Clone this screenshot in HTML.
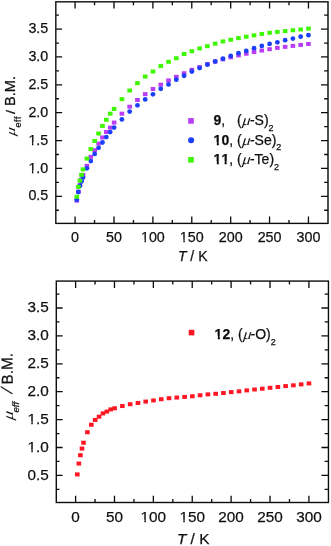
<!DOCTYPE html>
<html><head><meta charset="utf-8"><title>plot</title>
<style>
html,body{margin:0;padding:0;background:#fff;}
svg{display:block}
text{font-family:"Liberation Sans", sans-serif;font-size:14px;fill:#111;stroke:#111;stroke-width:0.25px;}
</style></head><body>
<svg width="331" height="546" viewBox="0 0 331 546">
<defs><filter id="soft" x="0" y="0" width="100%" height="100%" filterUnits="userSpaceOnUse"><feGaussianBlur stdDeviation="0.4"/></filter><filter id="soft2" x="0" y="0" width="100%" height="100%" filterUnits="userSpaceOnUse"><feGaussianBlur stdDeviation="0.25"/></filter></defs>
<rect width="331" height="546" fill="#fff"/>
<g filter="url(#soft2)">
<rect x="55.8" y="1.8" width="272.20" height="221.60" fill="none" stroke="#0a0a0a" stroke-width="1.38"/>
<path d="M75.10 223.4v-6.8M75.10 1.8v6.8M94.55 223.4v-3.4M94.55 1.8v3.4M113.99 223.4v-6.8M113.99 1.8v6.8M133.44 223.4v-3.4M133.44 1.8v3.4M152.88 223.4v-6.8M152.88 1.8v6.8M172.33 223.4v-3.4M172.33 1.8v3.4M191.77 223.4v-6.8M191.77 1.8v6.8M211.22 223.4v-3.4M211.22 1.8v3.4M230.67 223.4v-6.8M230.67 1.8v6.8M250.11 223.4v-3.4M250.11 1.8v3.4M269.56 223.4v-6.8M269.56 1.8v6.8M289.00 223.4v-3.4M289.00 1.8v3.4M308.45 223.4v-6.8M308.45 1.8v6.8M55.8 210.23h3.1M328.0 210.23h-3.8M55.8 196.30h6.3M328.0 196.30h-7.0M55.8 182.37h3.1M328.0 182.37h-3.8M55.8 168.43h6.3M328.0 168.43h-7.0M55.8 154.50h3.1M328.0 154.50h-3.8M55.8 140.57h6.3M328.0 140.57h-7.0M55.8 126.63h3.1M328.0 126.63h-3.8M55.8 112.70h6.3M328.0 112.70h-7.0M55.8 98.77h3.1M328.0 98.77h-3.8M55.8 84.83h6.3M328.0 84.83h-7.0M55.8 70.90h3.1M328.0 70.90h-3.8M55.8 56.97h6.3M328.0 56.97h-7.0M55.8 43.03h3.1M328.0 43.03h-3.8M55.8 29.10h6.3M328.0 29.10h-7.0M55.8 15.17h3.1M328.0 15.17h-3.8" stroke="#0a0a0a" stroke-width="1.3" fill="none"/>
<rect x="56.3" y="281.1" width="272.15" height="221.40" fill="none" stroke="#0a0a0a" stroke-width="1.38"/>
<path d="M75.60 502.5v-6.8M75.60 281.1v6.8M95.04 502.5v-3.4M95.04 281.1v3.4M114.48 502.5v-6.8M114.48 281.1v6.8M133.92 502.5v-3.4M133.92 281.1v3.4M153.37 502.5v-6.8M153.37 281.1v6.8M172.81 502.5v-3.4M172.81 281.1v3.4M192.25 502.5v-6.8M192.25 281.1v6.8M211.69 502.5v-3.4M211.69 281.1v3.4M231.13 502.5v-6.8M231.13 281.1v6.8M250.57 502.5v-3.4M250.57 281.1v3.4M270.02 502.5v-6.8M270.02 281.1v6.8M289.46 502.5v-3.4M289.46 281.1v3.4M308.90 502.5v-6.8M308.90 281.1v6.8M56.3 489.35h3.1M328.45 489.35h-3.8M56.3 475.40h6.3M328.45 475.40h-7.0M56.3 461.45h3.1M328.45 461.45h-3.8M56.3 447.50h6.3M328.45 447.50h-7.0M56.3 433.55h3.1M328.45 433.55h-3.8M56.3 419.60h6.3M328.45 419.60h-7.0M56.3 405.65h3.1M328.45 405.65h-3.8M56.3 391.70h6.3M328.45 391.70h-7.0M56.3 377.75h3.1M328.45 377.75h-3.8M56.3 363.80h6.3M328.45 363.80h-7.0M56.3 349.85h3.1M328.45 349.85h-3.8M56.3 335.90h6.3M328.45 335.90h-7.0M56.3 321.95h3.1M328.45 321.95h-3.8M56.3 308.00h6.3M328.45 308.00h-7.0M56.3 294.05h3.1M328.45 294.05h-3.8" stroke="#0a0a0a" stroke-width="1.3" fill="none"/>
</g>
<g filter="url(#soft)">
<text x="75.10" y="242.20" text-anchor="middle" style="font-size:14.3px">0</text>
<text x="113.99" y="242.20" text-anchor="middle" style="font-size:14.3px">50</text>
<text x="152.88" y="242.20" text-anchor="middle" style="font-size:14.3px">100</text>
<rect x="141.24" y="239.63" width="3.23" height="4.07" fill="#fff"/><rect x="145.89" y="239.63" width="3.36" height="4.07" fill="#fff"/>
<text x="191.77" y="242.20" text-anchor="middle" style="font-size:14.3px">150</text>
<rect x="180.13" y="239.63" width="3.23" height="4.07" fill="#fff"/><rect x="184.78" y="239.63" width="3.36" height="4.07" fill="#fff"/>
<text x="230.67" y="242.20" text-anchor="middle" style="font-size:14.3px">200</text>
<text x="269.56" y="242.20" text-anchor="middle" style="font-size:14.3px">250</text>
<text x="308.45" y="242.20" text-anchor="middle" style="font-size:14.3px">300</text>
<text x="48.30" y="200.25" text-anchor="end" style="font-size:14.3px">0.5</text>
<text x="48.30" y="172.88" text-anchor="end" style="font-size:14.3px">1.0</text>
<rect x="28.71" y="170.31" width="3.23" height="4.07" fill="#fff"/><rect x="33.36" y="170.31" width="3.36" height="4.07" fill="#fff"/>
<text x="48.30" y="144.52" text-anchor="end" style="font-size:14.3px">1.5</text>
<rect x="28.71" y="141.94" width="3.23" height="4.07" fill="#fff"/><rect x="33.36" y="141.94" width="3.36" height="4.07" fill="#fff"/>
<text x="48.30" y="116.65" text-anchor="end" style="font-size:14.3px">2.0</text>
<text x="48.30" y="88.78" text-anchor="end" style="font-size:14.3px">2.5</text>
<text x="48.30" y="60.92" text-anchor="end" style="font-size:14.3px">3.0</text>
<text x="48.30" y="33.05" text-anchor="end" style="font-size:14.3px">3.5</text>
<text x="192.70" y="261.10" text-anchor="middle" style="font-size:14px"><tspan font-style="italic">T</tspan> / K</text>
<text transform="translate(15.2,135.9) rotate(-90) scale(1.25,1) skewX(-8)" style="font-family:'Liberation Serif',serif;font-style:italic;stroke:none;font-size:13px">μ</text><text transform="translate(21.0,127.5) rotate(-90) " style="font-size:9px;letter-spacing:0.55px">eff</text><text transform="translate(15.2,114.0) rotate(-90) scale(1.12,1)" style="font-size:13px">/</text><text transform="translate(15.2,105.9) rotate(-90) " style="font-size:14.5px">B.M.</text>
<g fill="#b93cf5"><rect x="74.50" y="198.66" width="4.6" height="4.0"/><rect x="76.06" y="189.74" width="4.6" height="4.0"/><rect x="77.61" y="183.05" width="4.6" height="4.0"/><rect x="79.17" y="177.47" width="4.6" height="4.0"/><rect x="80.72" y="173.01" width="4.6" height="4.0"/><rect x="84.61" y="163.81" width="4.6" height="4.0"/><rect x="88.50" y="154.88" width="4.6" height="4.0"/><rect x="92.38" y="148.19" width="4.6" height="4.0"/><rect x="96.27" y="141.61" width="4.6" height="4.0"/><rect x="100.16" y="135.48" width="4.6" height="4.0"/><rect x="104.04" y="130.01" width="4.6" height="4.0"/><rect x="107.93" y="125.61" width="4.6" height="4.0"/><rect x="111.82" y="120.59" width="4.6" height="4.0"/><rect x="119.59" y="111.67" width="4.6" height="4.0"/><rect x="127.36" y="104.69" width="4.6" height="4.0"/><rect x="135.14" y="98.00" width="4.6" height="4.0"/><rect x="142.91" y="92.15" width="4.6" height="4.0"/><rect x="150.68" y="87.02" width="4.6" height="4.0"/><rect x="158.46" y="82.67" width="4.6" height="4.0"/><rect x="166.23" y="78.43" width="4.6" height="4.0"/><rect x="174.00" y="74.80" width="4.6" height="4.0"/><rect x="181.78" y="71.23" width="4.6" height="4.0"/><rect x="189.55" y="67.83" width="4.6" height="4.0"/><rect x="197.32" y="65.10" width="4.6" height="4.0"/><rect x="205.10" y="62.03" width="4.6" height="4.0"/><rect x="212.87" y="59.52" width="4.6" height="4.0"/><rect x="220.64" y="57.29" width="4.6" height="4.0"/><rect x="228.42" y="55.34" width="4.6" height="4.0"/><rect x="236.19" y="53.39" width="4.6" height="4.0"/><rect x="243.96" y="51.72" width="4.6" height="4.0"/><rect x="251.74" y="50.04" width="4.6" height="4.0"/><rect x="259.51" y="48.54" width="4.6" height="4.0"/><rect x="267.28" y="47.20" width="4.6" height="4.0"/><rect x="275.06" y="45.86" width="4.6" height="4.0"/><rect x="282.83" y="44.86" width="4.6" height="4.0"/><rect x="290.60" y="43.91" width="4.6" height="4.0"/><rect x="298.38" y="42.91" width="4.6" height="4.0"/><rect x="306.15" y="41.96" width="4.6" height="4.0"/></g>
<g fill="#1a40fa"><circle cx="76.80" cy="199.71" r="2.4"/><circle cx="78.36" cy="192.02" r="2.4"/><circle cx="79.91" cy="185.83" r="2.4"/><circle cx="81.47" cy="181.42" r="2.4"/><circle cx="83.02" cy="177.52" r="2.4"/><circle cx="86.91" cy="168.32" r="2.4"/><circle cx="90.80" cy="161.07" r="2.4"/><circle cx="94.68" cy="153.93" r="2.4"/><circle cx="98.57" cy="147.79" r="2.4"/><circle cx="102.46" cy="142.50" r="2.4"/><circle cx="106.34" cy="137.03" r="2.4"/><circle cx="110.23" cy="132.07" r="2.4"/><circle cx="114.12" cy="127.61" r="2.4"/><circle cx="121.89" cy="119.41" r="2.4"/><circle cx="129.66" cy="111.55" r="2.4"/><circle cx="137.44" cy="105.30" r="2.4"/><circle cx="145.21" cy="99.39" r="2.4"/><circle cx="152.98" cy="94.31" r="2.4"/><circle cx="160.76" cy="88.79" r="2.4"/><circle cx="168.53" cy="84.39" r="2.4"/><circle cx="176.30" cy="79.70" r="2.4"/><circle cx="184.08" cy="75.74" r="2.4"/><circle cx="191.85" cy="71.51" r="2.4"/><circle cx="199.62" cy="68.10" r="2.4"/><circle cx="207.40" cy="64.70" r="2.4"/><circle cx="215.17" cy="61.52" r="2.4"/><circle cx="222.94" cy="58.74" r="2.4"/><circle cx="230.72" cy="55.89" r="2.4"/><circle cx="238.49" cy="53.21" r="2.4"/><circle cx="246.26" cy="50.93" r="2.4"/><circle cx="254.04" cy="48.20" r="2.4"/><circle cx="261.81" cy="45.91" r="2.4"/><circle cx="269.58" cy="43.96" r="2.4"/><circle cx="277.36" cy="42.28" r="2.4"/><circle cx="285.13" cy="40.22" r="2.4"/><circle cx="292.90" cy="38.55" r="2.4"/><circle cx="300.68" cy="36.71" r="2.4"/><circle cx="308.45" cy="35.20" r="2.4"/></g>
<g fill="#3cf800"><rect x="74.50" y="194.76" width="4.6" height="4.0"/><rect x="76.06" y="184.89" width="4.6" height="4.0"/><rect x="77.61" y="178.59" width="4.6" height="4.0"/><rect x="79.17" y="172.79" width="4.6" height="4.0"/><rect x="80.72" y="167.43" width="4.6" height="4.0"/><rect x="84.61" y="156.56" width="4.6" height="4.0"/><rect x="88.50" y="147.08" width="4.6" height="4.0"/><rect x="92.38" y="138.99" width="4.6" height="4.0"/><rect x="96.27" y="131.52" width="4.6" height="4.0"/><rect x="100.16" y="123.93" width="4.6" height="4.0"/><rect x="104.04" y="117.80" width="4.6" height="4.0"/><rect x="107.93" y="111.67" width="4.6" height="4.0"/><rect x="111.82" y="106.93" width="4.6" height="4.0"/><rect x="119.59" y="97.17" width="4.6" height="4.0"/><rect x="127.36" y="88.52" width="4.6" height="4.0"/><rect x="135.14" y="81.11" width="4.6" height="4.0"/><rect x="142.91" y="74.58" width="4.6" height="4.0"/><rect x="150.68" y="69.51" width="4.6" height="4.0"/><rect x="158.46" y="63.98" width="4.6" height="4.0"/><rect x="166.23" y="59.80" width="4.6" height="4.0"/><rect x="174.00" y="56.23" width="4.6" height="4.0"/><rect x="181.78" y="52.00" width="4.6" height="4.0"/><rect x="189.55" y="49.21" width="4.6" height="4.0"/><rect x="197.32" y="46.42" width="4.6" height="4.0"/><rect x="205.10" y="44.19" width="4.6" height="4.0"/><rect x="212.87" y="41.68" width="4.6" height="4.0"/><rect x="220.64" y="39.45" width="4.6" height="4.0"/><rect x="228.42" y="37.77" width="4.6" height="4.0"/><rect x="236.19" y="36.10" width="4.6" height="4.0"/><rect x="243.96" y="34.71" width="4.6" height="4.0"/><rect x="251.74" y="33.31" width="4.6" height="4.0"/><rect x="259.51" y="31.92" width="4.6" height="4.0"/><rect x="267.28" y="30.80" width="4.6" height="4.0"/><rect x="275.06" y="29.91" width="4.6" height="4.0"/><rect x="282.83" y="29.13" width="4.6" height="4.0"/><rect x="290.60" y="28.24" width="4.6" height="4.0"/><rect x="298.38" y="27.46" width="4.6" height="4.0"/><rect x="306.15" y="26.62" width="4.6" height="4.0"/></g>
<rect x="188.20" y="118.10" width="5.6" height="5.6" fill="#b93cf5"/><text x="213.5" y="125.4"><tspan font-weight="bold" style="font-kerning:none">9</tspan>,</text><text x="237.0" y="125.4">(</text><text transform="translate(241.90,125.4) scale(1.12,1) skewX(-6)" style="font-family:'Liberation Serif',serif;font-style:italic;font-size:14.5px;stroke:none">μ</text><text x="249.96" y="125.4">-S)<tspan dx="-0.1" dy="5.5" style="font-size:9px">2</tspan></text><circle cx="191.1" cy="140.3" r="3.05" fill="#1a40fa"/><text x="213.6" y="144.9"><tspan font-weight="bold" style="font-kerning:none">10</tspan>,</text><rect x="213.88" y="141.99" width="2.91" height="4.41" fill="#fff"/><rect x="218.86" y="141.99" width="2.79" height="4.41" fill="#fff"/><text x="237.0" y="144.9">(</text><text transform="translate(241.90,144.9) scale(1.12,1) skewX(-6)" style="font-family:'Liberation Serif',serif;font-style:italic;font-size:14.5px;stroke:none">μ</text><text x="249.96" y="144.9">-Se)<tspan dx="-0.1" dy="5.5" style="font-size:9px">2</tspan></text><rect x="188.20" y="157.00" width="5.6" height="5.6" fill="#3cf800"/><text x="213.6" y="164.2"><tspan font-weight="bold" style="font-kerning:none">11</tspan>,</text><rect x="213.88" y="161.29" width="2.91" height="4.41" fill="#fff"/><rect x="218.86" y="161.29" width="2.79" height="4.41" fill="#fff"/><rect x="221.66" y="161.29" width="2.91" height="4.41" fill="#fff"/><rect x="226.65" y="161.29" width="2.79" height="4.41" fill="#fff"/><text x="237.0" y="164.2">(</text><text transform="translate(241.90,164.2) scale(1.12,1) skewX(-6)" style="font-family:'Liberation Serif',serif;font-style:italic;font-size:14.5px;stroke:none">μ</text><text x="249.96" y="164.2">-Te)<tspan dx="-0.1" dy="5.5" style="font-size:9px">2</tspan></text>
<text x="75.60" y="522.40" text-anchor="middle" style="font-size:15.3px">0</text>
<text x="114.48" y="522.40" text-anchor="middle" style="font-size:15.3px">50</text>
<text x="153.37" y="522.40" text-anchor="middle" style="font-size:15.3px">100</text>
<rect x="140.91" y="519.75" width="3.46" height="4.15" fill="#fff"/><rect x="145.88" y="519.75" width="3.60" height="4.15" fill="#fff"/>
<text x="192.25" y="522.40" text-anchor="middle" style="font-size:15.3px">150</text>
<rect x="179.80" y="519.75" width="3.46" height="4.15" fill="#fff"/><rect x="184.77" y="519.75" width="3.60" height="4.15" fill="#fff"/>
<text x="231.13" y="522.40" text-anchor="middle" style="font-size:15.3px">200</text>
<text x="270.02" y="522.40" text-anchor="middle" style="font-size:15.3px">250</text>
<text x="308.90" y="522.40" text-anchor="middle" style="font-size:15.3px">300</text>
<text x="48.80" y="479.80" text-anchor="end" style="font-size:15.3px">0.5</text>
<text x="48.80" y="452.40" text-anchor="end" style="font-size:15.3px">1.0</text>
<rect x="27.84" y="449.75" width="3.46" height="4.15" fill="#fff"/><rect x="32.81" y="449.75" width="3.60" height="4.15" fill="#fff"/>
<text x="48.80" y="424.00" text-anchor="end" style="font-size:15.3px">1.5</text>
<rect x="27.84" y="421.35" width="3.46" height="4.15" fill="#fff"/><rect x="32.81" y="421.35" width="3.60" height="4.15" fill="#fff"/>
<text x="48.80" y="396.10" text-anchor="end" style="font-size:15.3px">2.0</text>
<text x="48.80" y="368.20" text-anchor="end" style="font-size:15.3px">2.5</text>
<text x="48.80" y="340.30" text-anchor="end" style="font-size:15.3px">3.0</text>
<text x="48.80" y="312.40" text-anchor="end" style="font-size:15.3px">3.5</text>
<text x="193.18" y="543.80" text-anchor="middle" style="font-size:15.4px"><tspan font-style="italic">T</tspan> / K</text>
<text transform="translate(12.7,420.2) rotate(-90) scale(1.2,1) skewX(-8)" style="font-family:'Liberation Serif',serif;font-style:italic;stroke:none;font-size:14.5px">μ</text><text transform="translate(19.4,412.6) rotate(-90) " style="font-size:9.7px;font-style:italic">eff</text><text transform="translate(11.9,393.3) rotate(-90) skewX(-8)" style="font-size:15.3px;font-style:italic">/</text><text transform="translate(12.7,384.4) rotate(-90.35) scale(1,1.03)" style="font-size:15.3px">B.M.</text>
<g fill="#ff1420"><rect x="75.00" y="472.43" width="4.6" height="4.0"/><rect x="76.56" y="461.55" width="4.6" height="4.0"/><rect x="78.11" y="453.23" width="4.6" height="4.0"/><rect x="79.67" y="446.53" width="4.6" height="4.0"/><rect x="81.22" y="440.72" width="4.6" height="4.0"/><rect x="85.11" y="430.22" width="4.6" height="4.0"/><rect x="89.00" y="422.74" width="4.6" height="4.0"/><rect x="92.88" y="417.94" width="4.6" height="4.0"/><rect x="96.77" y="414.65" width="4.6" height="4.0"/><rect x="100.66" y="411.41" width="4.6" height="4.0"/><rect x="104.54" y="409.56" width="4.6" height="4.0"/><rect x="108.43" y="407.39" width="4.6" height="4.0"/><rect x="112.32" y="406.27" width="4.6" height="4.0"/><rect x="120.09" y="404.04" width="4.6" height="4.0"/><rect x="127.86" y="402.25" width="4.6" height="4.0"/><rect x="135.64" y="400.97" width="4.6" height="4.0"/><rect x="143.41" y="399.57" width="4.6" height="4.0"/><rect x="151.18" y="398.45" width="4.6" height="4.0"/><rect x="158.96" y="397.23" width="4.6" height="4.0"/><rect x="166.73" y="396.22" width="4.6" height="4.0"/><rect x="174.50" y="395.55" width="4.6" height="4.0"/><rect x="182.28" y="394.94" width="4.6" height="4.0"/><rect x="190.05" y="394.27" width="4.6" height="4.0"/><rect x="197.82" y="393.26" width="4.6" height="4.0"/><rect x="205.60" y="392.37" width="4.6" height="4.0"/><rect x="213.37" y="391.81" width="4.6" height="4.0"/><rect x="221.14" y="391.03" width="4.6" height="4.0"/><rect x="228.92" y="390.13" width="4.6" height="4.0"/><rect x="236.69" y="389.35" width="4.6" height="4.0"/><rect x="244.46" y="388.40" width="4.6" height="4.0"/><rect x="252.24" y="387.51" width="4.6" height="4.0"/><rect x="260.01" y="386.73" width="4.6" height="4.0"/><rect x="267.78" y="385.78" width="4.6" height="4.0"/><rect x="275.56" y="385.00" width="4.6" height="4.0"/><rect x="283.33" y="384.11" width="4.6" height="4.0"/><rect x="291.10" y="383.32" width="4.6" height="4.0"/><rect x="298.88" y="382.37" width="4.6" height="4.0"/><rect x="306.65" y="381.43" width="4.6" height="4.0"/></g>
<rect x="188.75" y="329.80" width="5.6" height="5.6" fill="#ff1420"/><text x="214.6" y="338.6"><tspan font-weight="bold" style="font-kerning:none">12</tspan>,</text><rect x="214.88" y="335.69" width="2.91" height="4.41" fill="#fff"/><rect x="219.86" y="335.69" width="2.79" height="4.41" fill="#fff"/><text x="238.1" y="338.6">(</text><text transform="translate(243.00,338.6) scale(1.12,1) skewX(-6)" style="font-family:'Liberation Serif',serif;font-style:italic;font-size:14.5px;stroke:none">μ</text><text x="250.56" y="338.6">-O)<tspan dx="-0.1" dy="6.0" style="font-size:9px">2</tspan></text>
</g>
</svg>
</body></html>
